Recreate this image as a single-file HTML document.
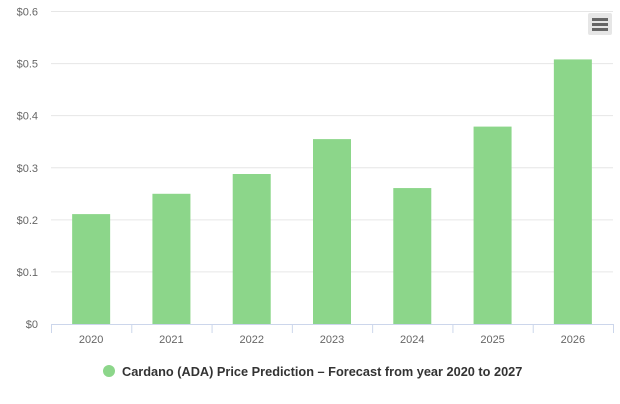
<!DOCTYPE html>
<html><head><meta charset="utf-8"><style>
html,body{margin:0;padding:0;background:#fff;}
svg{display:block;font-family:"Liberation Sans",sans-serif;}
</style></head><body>
<svg id="chart" width="620" height="404">
<g id="grid"></g><g id="bars"></g><g id="axes"></g>
<g>
<rect x="588" y="13" width="24" height="22" rx="2" fill="#e6e6e6"/>
<rect x="592" y="18" width="16" height="3" fill="#666"/>
<rect x="592" y="23" width="16" height="3" fill="#666"/>
<rect x="592" y="28" width="16" height="3" fill="#666"/>
</g>
<g>
<circle cx="109" cy="371" r="6" fill="#8cd68a"/>
<text x="122" y="376" font-size="12.75" font-weight="bold" fill="#333">Cardano (ADA) Price Prediction – Forecast from year 2020 to 2027</text>
</g>
</svg>
<script>
const categories=["2020","2021","2022","2023","2024","2025","2026"];
const values=[0.211,0.250,0.288,0.355,0.261,0.379,0.508];
const yTicks=[0,0.1,0.2,0.3,0.4,0.5,0.6];
const yLabels=["$0","$0.1","$0.2","$0.3","$0.4","$0.5","$0.6"];
const NS="http://www.w3.org/2000/svg";
const L=51,R=613,T=11.5,B=324,yMax=0.6;
const y=v=>B-(v/yMax)*(B-T);
const cw=(R-L)/categories.length;
const x=i=>L+cw*i;
function mk(t,a,p){const e=document.createElementNS(NS,t);for(const k in a)e.setAttribute(k,a[k]);p.appendChild(e);return e;}
const grid=document.getElementById('grid'),bars=document.getElementById('bars'),axes=document.getElementById('axes');
yTicks.forEach((v,i)=>{
 if(i>0){const g=mk('line',{x1:L,x2:R,y1:y(v),y2:y(v),stroke:'#e6e6e6','stroke-width':1},grid);
 
 }
 const t=mk('text',{x:38,y:y(v)+4,'text-anchor':'end','font-size':11,fill:'#666'},axes);
 t.textContent=yLabels[i];
 
 
});
categories.forEach((c,i)=>{
 const bw=38,cx=x(i)+cw/2;
 const r=mk('rect',{x:cx-bw/2,y:y(values[i]),width:bw,height:B-y(values[i]),fill:'#8cd68a'},bars);
 
 
 const t=mk('text',{x:cx,y:343,'text-anchor':'middle','font-size':11,fill:'#666'},axes);
 t.textContent=c;
 
 
});
for(let i=0;i<=categories.length;i++){
 const tk=mk('line',{x1:x(i)+0.5,x2:x(i)+0.5,y1:B,y2:B+9,stroke:'#ccd6eb'},axes);
 
 
}
const ax=mk('line',{x1:L,x2:R,y1:B+0.5,y2:B+0.5,stroke:'#ccd6eb'},axes);


</script>
</body></html>
